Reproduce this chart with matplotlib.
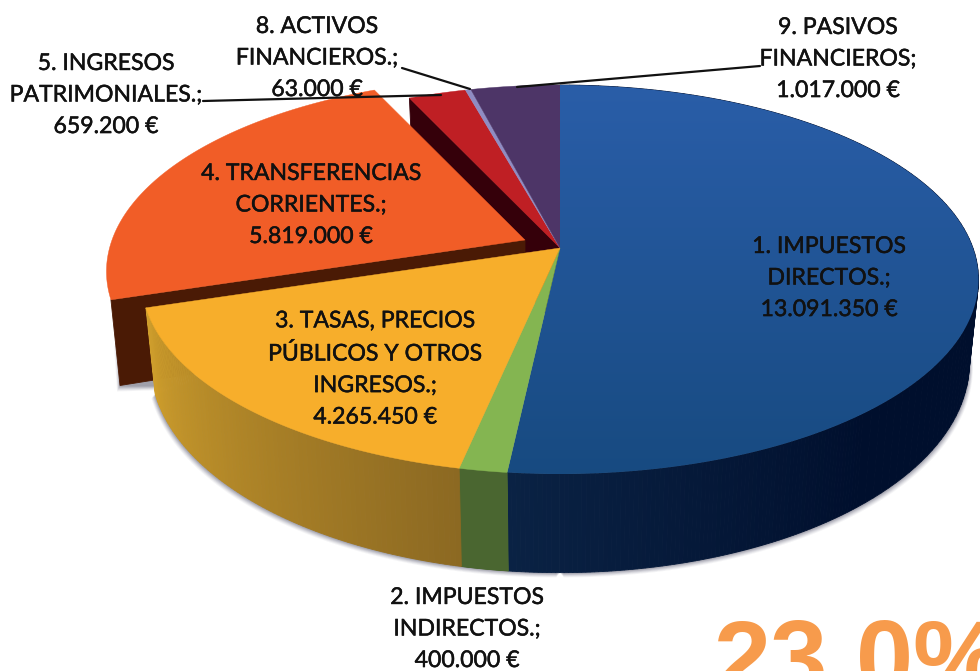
import numpy as np
import matplotlib
matplotlib.use("Agg")
import matplotlib.pyplot as plt
import matplotlib.patheffects as pe
from matplotlib.colors import to_rgb
from matplotlib.patches import Polygon

# ---- data ----
labels = [
    "1. IMPUESTOS\nDIRECTOS.;\n13.091.350 €",
    "2. IMPUESTOS\nINDIRECTOS.;\n400.000 €",
    "3. TASAS, PRECIOS\nPÚBLICOS Y OTROS\nINGRESOS.;\n4.265.450 €",
    "4. TRANSFERENCIAS\nCORRIENTES.;\n5.819.000 €",
    "5. INGRESOS\nPATRIMONIALES.;\n659.200 €",
    "8. ACTIVOS\nFINANCIEROS.;\n63.000 €",
    "9. PASIVOS\nFINANCIEROS;\n1.017.000 €",
]
values = [13091350, 400000, 4265450, 5819000, 659200, 63000, 1017000]
overlay_text = "23,0%"

# ---- styles / layout ----
top_colors = ["#1f5aa3", "#84b551", "#f7ae2b", "#f15d27", "#bf1f24", "#8f8cc2", "#4d3567"]
label_pos = [(829, 278), (467, 629), (375, 369), (311, 205), (106, 95), (317, 58), (838, 59)]
leaders = [((203, 101), (441, 95)), ((402, 68), (470, 89)), ((760, 66), (517, 87))]
CX, CY = 560, 248
A, B, K = 413, 189.4, 0.162
EXPLODE = (-35, -8)

fig = plt.figure(figsize=(9.8, 6.71), dpi=100, facecolor="white")
ax = fig.add_axes([0, 0, 1, 1])


def rim(theta):
    t = np.radians(theta)
    u, v = np.sin(t), -np.cos(t)
    w = 1 - K * v
    return CX + A * u / w, CY + B * v / w


def lower(x, y):
    return CX + 0.978 * (x - CX), y + 81 + 0.078 * (y - CY)


def mix(c1, c2, f):
    a, b = np.array(to_rgb(c1)), np.array(to_rgb(c2))
    return tuple(a + (b - a) * f)


edges = np.concatenate([[0], np.cumsum(values)]) / np.sum(values) * 360
spans = list(zip(edges[:-1], edges[1:]))


def top_poly(i, off=(0, 0)):
    th = np.linspace(spans[i][0], spans[i][1], 160)
    x, y = rim(th)
    return np.column_stack([np.r_[CX, x] + off[0], np.r_[CY, y] + off[1]])


def wall_strips(a, b, c1, c2, z, n=90):
    th = np.linspace(a, b, n + 1)
    x, y = rim(th)
    xl, yl = lower(x, y)
    for j in range(n):
        col = mix(c1, c2, j / max(n - 1, 1))
        ax.fill([x[j], x[j + 1], xl[j + 1], xl[j]], [y[j], y[j + 1], yl[j + 1], yl[j]],
                facecolor=col, edgecolor=col, lw=0.6, zorder=z)


def radial_wall(theta, col, z, off=(0, 0)):
    x, y = rim(theta)
    xl, yl = lower(x, y)
    ax0, ay0 = lower(CX, CY)
    ax.fill(np.array([CX, x, xl, ax0]) + off[0], np.array([CY, y, yl, ay0]) + off[1],
            facecolor=col, edgecolor=col, lw=0.6, zorder=z)


# soft shadows below the rim
th_l = np.linspace(180, spans[2][1], 200)
th_r = np.linspace(70, 180, 200)
xl_s, yl_s = lower(*rim(th_l))
xr_s, yr_s = lower(*rim(th_r))
x0, y0 = lower(*rim(spans[3][0]))
x0 += EXPLODE[0]
y0 += EXPLODE[1]
for d, al in zip([6, 5, 4, 3, 2, 1], [0.05, 0.07, 0.09, 0.11, 0.13, 0.15]):
    ax.fill(np.r_[xl_s - d * 0.6, CX], np.r_[yl_s + d * 0.8, CY], color="#3a3a50", alpha=al, lw=0, zorder=1)
    ax.fill(np.r_[xr_s + d * 0.6, CX], np.r_[yr_s + d * 0.8, CY], color="#3a3a50", alpha=al, lw=0, zorder=1)
    ax.fill([x0 - d, x0 - d * 0.5, x0 + 60], [y0 - 40, y0 + d, y0 + d * 0.7], color="#3a3a50", alpha=al, lw=0, zorder=1)

# side walls
radial_wall(spans[4][0], "#35000a", 2)
radial_wall(spans[3][0], "#4a1a05", 3, off=EXPLODE)
wall_strips(0, 140, "#00102f", "#000f2d", 4)
wall_strips(140, spans[0][1], "#000f2d", "#0a2244", 4)
wall_strips(spans[1][0], spans[1][1], "#4a6630", "#4a6630", 4)
wall_strips(spans[2][0], spans[2][1], "#8c6922", "#cf9e2c", 4)

# top faces
top_z = {0: 6, 1: 6, 2: 6, 3: 7, 4: 5, 5: 5, 6: 5}
for i, col in enumerate(top_colors):
    off = EXPLODE if i == 3 else (0, 0)
    pts = top_poly(i, off)
    if i == 0:
        c_a, c_b = np.array(to_rgb("#2a5ea9")), np.array(to_rgb("#174a80"))
        grad = np.linspace(0, 1, 256)[:, None, None] * (c_b - c_a) + c_a
        im = ax.imshow(grad, extent=(500, 1000, 480, 80), aspect="auto", zorder=top_z[i], interpolation="bilinear")
        im.set_clip_path(Polygon(pts, closed=True, transform=ax.transData))
    else:
        ax.fill(pts[:, 0], pts[:, 1], facecolor=col, edgecolor=col, lw=0.3, zorder=top_z[i])

# leader lines
for (p, q) in leaders:
    ax.plot([p[0], q[0]], [p[1], q[1]], color="#111111", lw=1.6, zorder=9, solid_capstyle="round")

# labels
for lab, (lx, ly) in zip(labels, label_pos):
    ax.text(lx, ly, lab, ha="center", va="center", fontsize=16.6, family="Lato",
            color="#111111", linespacing=1.62, zorder=10,
            path_effects=[pe.withStroke(linewidth=0.35, foreground="#111111")])

ax.text(713, 693, overlay_text, ha="left", va="baseline", fontsize=74, fontweight="bold",
        family="Liberation Sans", color="#f79b4c", zorder=10)

ax.set_xlim(0, 980)
ax.set_ylim(671, 0)
ax.axis("off")
fig.savefig("out.png", dpi=100, facecolor="white")
